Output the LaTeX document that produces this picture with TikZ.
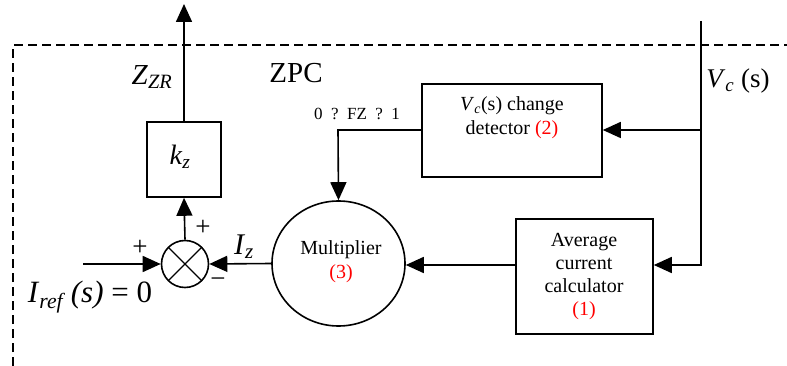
\documentclass[tikz,border=0pt]{standalone}
\usepackage{fontspec}
\setmainfont{Liberation Serif}
\usetikzlibrary{shapes.geometric,arrows.meta,calc}
\begin{document}
\begin{tikzpicture}[x=1pt,y=-1pt,
  line width=1.6pt,
  arr/.style={-{Triangle[length=18pt,width=16pt]}},
  blk/.style={draw,rectangle,inner sep=0pt,align=center,font=\fontsize{20}{23}\selectfont},
  lbl/.style={inner sep=0pt},
]
\useasboundingbox (0,0) rectangle (787,366);
% dashed frame
\draw[line width=1.5pt,dash pattern=on 9pt off 5pt] (13,366) -- (13,45) -- (787,45);
% nodes
\node[blk,minimum width=74pt,minimum height=75pt] (kz) at (184,159.5) {};
\node[lbl,font=\fontsize{28}{30}\selectfont] (kzt) at (180,157) {\textit{k}\textsubscript{\textit{z}}};
\node[draw,circle,minimum size=47pt,inner sep=0pt,
  path picture={\draw[line width=1.3pt] (path picture bounding box.north west) -- (path picture bounding box.south east)
   (path picture bounding box.north east) -- (path picture bounding box.south west);}] (sum) at (185,264) {};
\node[draw,ellipse,minimum width=133pt,minimum height=125pt,inner sep=0pt] (mult) at (338.5,263.5) {};
\node[lbl,align=center,font=\fontsize{20}{24}\selectfont] (multt) at (341,262) {Multiplier\\\textcolor{red}{(3)}};
\node[blk,minimum width=137pt,minimum height=115pt] (avg) at (584.5,276.5) {};
\node[lbl,align=center,font=\fontsize{20}{23}\selectfont] (avgt) at (584,277) {Average\\current\\calculator\\\textcolor{red}{(1)}};
\node[blk,minimum width=180pt,minimum height=93pt] (det) at (512,130.5) {};
\node[lbl,align=center,font=\fontsize{20}{24}\selectfont] (dett) at (512,118) {\textit{V}\textsubscript{\textit{c}}(s) change\\detector \textcolor{red}{(2)}};
\coordinate (vtop) at (701,21);
\coordinate (vj1) at (701,130);
\coordinate (vj2) at (701,265);
\coordinate (inp) at (83,264);
\coordinate (out) at (184,4);
\coordinate (fzc) at (338,130);
% connectors
\draw[arr] (kz.north) -- (out);
\draw[arr] (sum.north) -- (kz.south);
\draw[arr] (inp) -- (sum.west);
\draw[arr] (mult.west) -- (sum.east);
\draw[arr] (avg.west |- 0,265) -- (mult.east |- 0,265);
\draw[arr] (vtop) -- (vj2) -- (vj2 -| avg.east);
\draw[arr] (vj1) -- (vj1 -| det.east);
\draw[arr] (det.west |- fzc) -- (fzc) -- (mult.north);
% labels
\node[lbl,font=\fontsize{29}{31}\selectfont] (zzr) at (152,77) {\textit{Z}\textsubscript{\textit{ZR}}};
\node[lbl,font=\fontsize{29}{31}\selectfont] (zpc) at (296,73) {ZPC};
\node[lbl,font=\fontsize{17}{19}\selectfont] (fz) at (357,114) {0\enspace?\enspace FZ\enspace?\enspace1};
\node[lbl,font=\fontsize{27}{29}\selectfont] (vc) at (738,81) {\textit{V}\textsubscript{\textit{c}} (s)};
\node[lbl,font=\fontsize{27}{29}\selectfont] (pl1) at (140,248) {+};
\node[lbl,font=\fontsize{27}{29}\selectfont] (pl2) at (203,228) {+};
\node[lbl,font=\fontsize{27}{29}\selectfont] (mi) at (218,283) {\textminus};
\node[lbl,font=\fontsize{30}{32}\selectfont] (iz) at (244,247) {\textit{I}\textsubscript{\textit{z}}};
\node[lbl,font=\fontsize{31}{33}\selectfont] (iref) at (90,297) {\textit{I}\textsubscript{\textit{ref}}\,\textit{(s)} = 0};
\end{tikzpicture}
\end{document}
